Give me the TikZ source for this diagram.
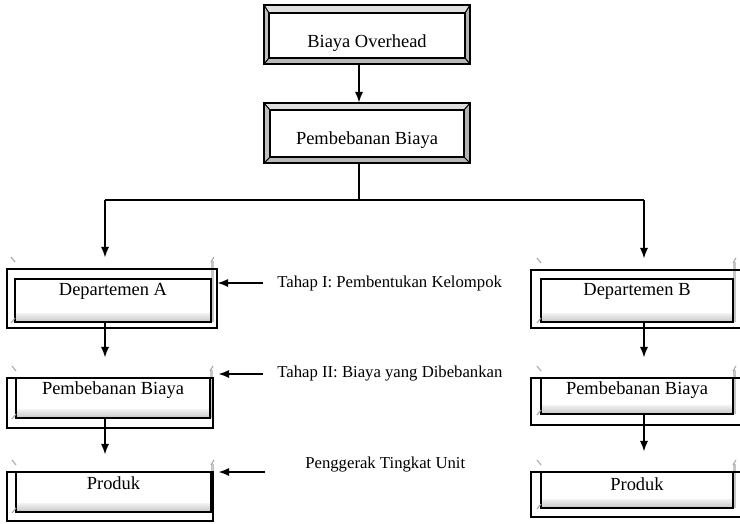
\documentclass[tikz,border=0pt]{standalone}
\usepackage{fontspec}
\setmainfont{Liberation Serif}
\usetikzlibrary{arrows.meta, positioning, calc}

\tikzset{
	frame/.style={draw=black, line width=0.6pt, inner sep=0pt},
	conn/.style={line width=0.8pt, -{Latex[length=6pt, width=4.6pt]}},
	boxtext/.style={font=\fontsize{10.5}{12}\selectfont, inner sep=0pt},
	steptext/.style={font=\fontsize{9.5}{11}\selectfont, inner sep=0pt, anchor=west},
	tick/.style={draw=gray!70, line width=0.6pt},
}

\begin{document}
\begin{tikzpicture}[x=0.2mm, y=-0.2mm]
		\useasboundingbox (0,0) rectangle (740,523);
		% bevelled boxes at the top
		\foreach \nm/\ox/\oy/\oX/\oY/\ix/\iy/\iX/\iY/\ty/\txt in {
			ovh/264/5/470/64/269/13/465/58/43/Biaya Overhead,
			beban/264/103/470/163/270/110/464/157/140/Pembebanan Biaya}{
			\fill[gray!25] (\ox,\oy) -- (\oX,\oy) -- (\iX,\iy) -- (\ix,\iy) -- cycle;
			\fill[gray!50] (\ox,\oy) -- (\ix,\iy) -- (\ix,\iY) -- (\ox,\oY) -- cycle;
			\fill[gray!60] (\oX,\oy) -- (\iX,\iy) -- (\iX,\iY) -- (\oX,\oY) -- cycle;
			\fill[gray!55] (\ox,\oY) -- (\oX,\oY) -- (\iX,\iY) -- (\ix,\iY) -- cycle;
			\node[frame, minimum width={(\oX-\ox)*0.2mm}, minimum height={(\oY-\oy)*0.2mm}] (\nm) at ({(\ox+\oX)/2},{(\oy+\oY)/2}) {};
			\draw[frame] (\ix,\iy) rectangle (\iX,\iY);
			\draw[frame] (\ox,\oy) -- (\ix,\iy) (\oX,\oy) -- (\iX,\iy) (\ox,\oY) -- (\ix,\iY) (\oX,\oY) -- (\iX,\iY);
			\node[boxtext] (\nm-txt) at ({(\ox+\oX)/2},\ty) {\txt};
		}
		% the two columns
		\foreach \nm/\ox/\oy/\oX/\oY/\ix/\iy/\iX/\iY/\ty/\txt in {
			depA/7/269/217/328/15/279/211/322/291/Departemen A,
			pbA/7/378/213/428/16/378/210/418/390/Pembebanan Biaya,
			prA/7/472/213/521/16/472/211/512/483/Produk,
			depB/531/270/742/328/541/279/733/322/291/Departemen B,
			pbB/531/378/742/425/541/378/733/414/390/Pembebanan Biaya,
			prB/531/472/742/517/541/472/733/508/484/Produk}{
			\shade[top color=gray!10, bottom color=gray!45] (\ix,\iY-9) rectangle (\iX,\iY);
			\fill[gray!45] (\iX,\oy-8) rectangle (\iX+3,\iY);
			\node[frame, minimum width={(\oX-\ox)*0.2mm}, minimum height={(\oY-\oy)*0.2mm}] (\nm) at ({(\ox+\oX)/2},{(\oy+\oY)/2}) {};
			\node[frame, minimum width={(\iX-\ix)*0.2mm}, minimum height={(\iY-\iy)*0.2mm}] (\nm-in) at ({(\ix+\iX)/2},{(\iy+\iY)/2}) {};
			\draw[tick] (\ix-4,\oy-12) -- (\ix,\oy-7);
			\draw[tick] (\iX,\oy-7) -- (\iX+3,\oy-12);
			\draw[tick] (\ix-4,\iY+1) -- (\ix,\iY-4);
			\node[boxtext] (\nm-txt) at ({(\ix+\iX)/2},\ty) {\txt};
		}
		% stage labels
		\node[steptext] (tahapA) at (277,283) {Tahap I: Pembentukan Kelompok};
		\node[steptext] (tahapB) at (277,374) {Tahap II: Biaya yang Dibebankan};
		\node[steptext] (unit) at (305,465) {Penggerak Tingkat Unit};
		\coordinate (unitArr) at (265,472);
		% connectors
		\coordinate (split) at (359,200);
		\coordinate (forkA) at (105,200);
		\coordinate (forkB) at (644,200);
		\draw[conn] (split |- ovh.south) -- (split |- beban.north);
		\draw[line width=0.8pt] (split |- beban.south) -- (split);
		\draw[line width=0.8pt] (forkA) -- (forkB);
		\draw[conn, shorten >=2.2mm] (forkA) -- (forkA |- depA.north);
		\draw[conn, shorten >=2.2mm] (forkB) -- (forkB |- depB.north);
		\draw[conn, shorten >=4mm] (forkA |- depA-in.south) -- (forkA |- pbA.north);
		\draw[conn, shorten >=3.4mm] (forkA |- pbA-in.south) -- (forkA |- prA.north);
		\draw[conn, shorten >=4mm] (forkB |- depB-in.south) -- (forkB |- pbB.north);
		\draw[conn, shorten >=4mm] (forkB |- pbB-in.south) -- (forkB |- prB.north);
		\draw[conn] ([xshift=-2.8mm]tahapA.west) -- (tahapA.west -| depA.east);
		\draw[conn, shorten >=1mm] ([xshift=-2.8mm]tahapB.west) -- (tahapB.west -| pbA.east);
		\draw[conn, shorten >=1mm] (unitArr) -- (unitArr -| prA.east);
	\end{tikzpicture}
\end{document}
